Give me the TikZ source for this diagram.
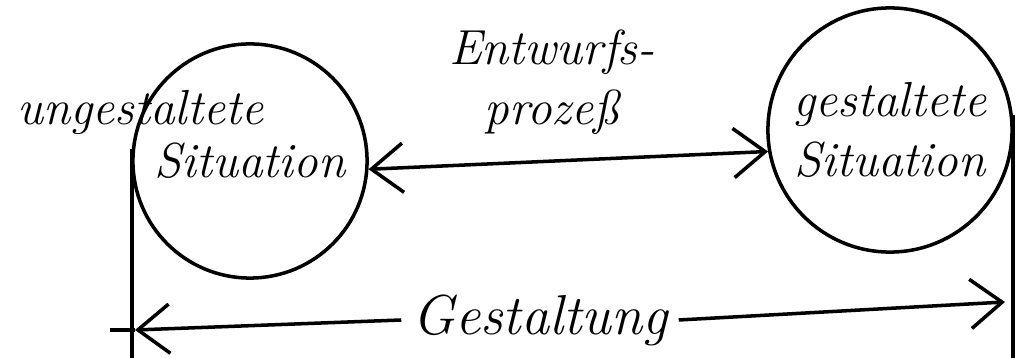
\documentclass[tikz,border=0pt]{standalone}
\usepackage{tikz}
\usetikzlibrary{positioning,arrows.meta}
\tikzset{
  sit/.style={circle, draw=black, line width=1pt, inner sep=0pt},
  hand/.style={font=\itshape\fontsize{14}{17}\selectfont, inner sep=1pt},
  big/.style={font=\itshape\fontsize{16}{19}\selectfont, inner sep=3pt},
  ln/.style={draw=black, line width=1pt},
  ar/.style={ln, -{Straight Barb[length=9pt,width=14pt]}},
  dar/.style={ln, {Straight Barb[length=9pt,width=14pt]}-{Straight Barb[length=9pt,width=14pt]}}
}
\begin{document}
\begin{tikzpicture}[x=0.01cm, y=-0.01cm]
        \useasboundingbox (0,0) rectangle (1023,358);
        \coordinate (bot) at (0,358);
        \node[sit, minimum size=2.34cm, hand] (lsit) at (250,161) {Situation};
        \node[sit, minimum size=2.44cm, hand, align=center] (rsit) at (890,130) {gestaltete\\Situation};
        \node[hand, anchor=base west] (unges) at (13,125) {ungestaltete};
        \node[hand, align=center] (entw) at (552,82) {Entwurfs-\\prozeß};
        \node[big] (gest) at (540,320) {Gestaltung};
        \coordinate (gl) at (135,330);
        \coordinate (gr) at (1005,302);
        \draw[dar] (lsit.-4) -- (rsit.190);
        \draw[ln] (lsit.174) -- (lsit.174 |- bot);
        \draw[ln] (rsit.7) -- (rsit.7 |- bot);
        \draw[ar] (gest.west) -- (gl);
        \draw[ln] (gl) -- ++(-25,0);
        \draw[ar] (gest.east) -- (gr);
      \end{tikzpicture}
\end{document}
